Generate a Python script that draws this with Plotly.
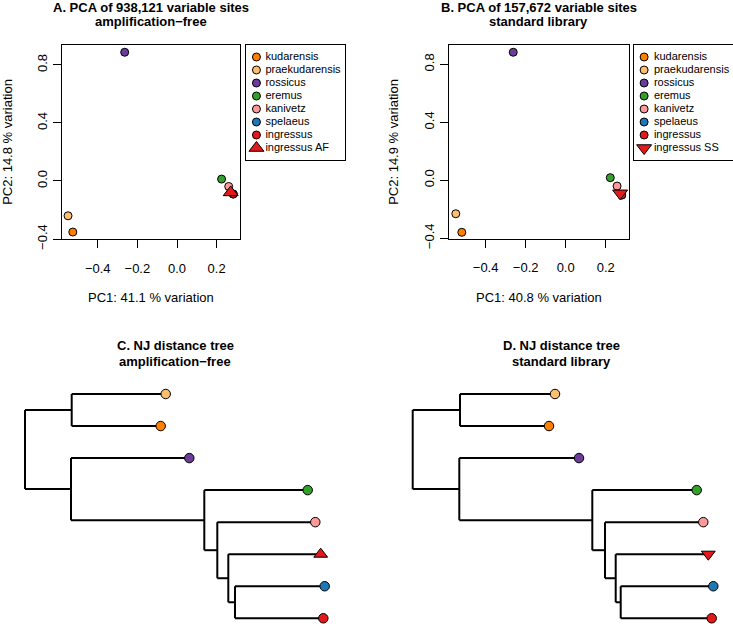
import plotly.graph_objects as go

W, H = 733, 624

# ---------------- data ----------------
species = ["kudarensis", "praekudarensis", "rossicus", "eremus", "kanivetz", "spelaeus", "ingressus"]
species_colors = ["#FF7F00", "#FDBF6F", "#6A3D9A", "#33A02C", "#FB9A99", "#1F78B4", "#E31A1C"]

pcaA_pc1 = [-0.526, -0.550, -0.264, 0.225, 0.261, 0.284, 0.284]
pcaA_pc2 = [-0.352, -0.240, 0.887, 0.013, -0.038, -0.090, -0.090]
pcaA_extra_label = "ingressus AF"
pcaA_extra = (0.271, -0.079)

pcaB_pc1 = [-0.519, -0.549, -0.262, 0.223, 0.257, 0.280, 0.280]
pcaB_pc2 = [-0.359, -0.231, 0.883, 0.018, -0.040, -0.102, -0.102]
pcaB_extra_label = "ingressus SS"
pcaB_extra = (0.272, -0.090)

titleA = ["A. PCA of 938,121 variable sites", "amplification\u2212free"]
titleB = ["B. PCA of 157,672 variable sites", "standard library"]
titleC = ["C. NJ distance tree", "amplification\u2212free"]
titleD = ["D. NJ distance tree", "standard library"]
xlabA, ylabA = "PC1: 41.1 % variation", "PC2: 14.8 % variation"
xlabB, ylabB = "PC1: 40.8 % variation", "PC2: 14.9 % variation"
pca_xticks = [-0.4, -0.2, 0.0, 0.2]
pca_yticks = [-0.4, 0.0, 0.4, 0.8]

# NJ trees: tips (top to bottom) with distance from root; internal nodes with children
treeC_tips = ["praekudarensis", "kudarensis", "rossicus", "eremus", "kanivetz", "ingressus AF", "spelaeus", "ingressus"]
treeC_tip_depth = [0.1407, 0.1357, 0.1643, 0.2827, 0.2903, 0.2957, 0.2997, 0.2983]
treeD_tips = ["praekudarensis", "kudarensis", "rossicus", "eremus", "kanivetz", "ingressus SS", "spelaeus", "ingressus"]
treeD_tip_depth = [0.1423, 0.1363, 0.1663, 0.2840, 0.2906, 0.2956, 0.3006, 0.2990]
tree_nodes = {
    "root": ["n1", "n2"],
    "n1": [0, 1],
    "n2": [2, "n3"],
    "n3": [3, "n4"],
    "n4": [4, "n5"],
    "n5": [5, "n6"],
    "n6": [6, 7],
}
treeC_node_depth = {"root": 0.0, "n1": 0.0467, "n2": 0.0460, "n3": 0.1793, "n4": 0.1923, "n5": 0.2033, "n6": 0.2100}
treeD_node_depth = {"root": 0.0, "n1": 0.0473, "n2": 0.0466, "n3": 0.1796, "n4": 0.1923, "n5": 0.2030, "n6": 0.2080}

FONT = "Liberation Sans, Arial, Helvetica, sans-serif"

def px_x(p):
    return p / W

def px_y(p):
    return 1 - p / H

fig = go.Figure()

def pca_panel(ax, pc1, pc2, extra, extra_label, extra_symbol, dom_x, dom_y, xr, yr,
              title, xlab, ylab, leg_ax, leg_dom_x, leg_dom_y, leg_mx, leg_tx):
    xa = "x" if ax == 1 else f"x{ax}"
    ya = "y" if ax == 1 else f"y{ax}"
    for i, sp in enumerate(species):
        fig.add_trace(go.Scatter(x=[pc1[i]], y=[pc2[i]], mode="markers", xaxis=xa, yaxis=ya,
                                 marker=dict(size=8, opacity=1, color=species_colors[i], line=dict(color="black", width=1)),
                                 showlegend=False, hoverinfo="skip", cliponaxis=False))
    fig.add_trace(go.Scatter(x=[extra[0]], y=[extra[1]], mode="markers", xaxis=xa, yaxis=ya,
                             marker=dict(size=13, opacity=1, symbol=extra_symbol, color="#E31A1C", line=dict(color="black", width=1)),
                             showlegend=False, hoverinfo="skip", cliponaxis=False))
    axis_common = dict(showline=True, mirror=True, linecolor="black", linewidth=1, ticks="outside",
                       ticklen=8, tickwidth=1, tickcolor="black", showgrid=False, zeroline=False, automargin=False,
                       tickfont=dict(family=FONT, size=13, color="black"))
    fig.layout[f"xaxis{'' if ax == 1 else ax}"] = dict(domain=[px_x(dom_x[0]), px_x(dom_x[1])], range=xr,
                                                         anchor=ya, tickvals=pca_xticks, ticktext=[f"{v:.1f}".replace("-", "\u2212") for v in pca_xticks],
                                                         ticklabelstandoff=9, **axis_common)
    fig.layout[f"yaxis{'' if ax == 1 else ax}"] = dict(domain=[px_y(dom_y[1]), px_y(dom_y[0])], range=yr,
                                                         anchor=xa, tickvals=pca_yticks, ticktext=[f"{v:.1f}".replace("-", "\u2212") for v in pca_yticks],
                                                         tickangle=-90, ticklabelstandoff=1, **axis_common)
    cx = (dom_x[0] + dom_x[1]) / 2
    cy = (dom_y[0] + dom_y[1]) / 2
    fig.add_annotation(x=px_x(cx), y=px_y(7.5), xref="paper", yref="paper", text=f"<b>{title[0]}</b>",
                       showarrow=False, font=dict(family=FONT, size=13, color="black"), xanchor="center", yanchor="middle")
    fig.add_annotation(x=px_x(cx), y=px_y(22), xref="paper", yref="paper", text=f"<b>{title[1]}</b>",
                       showarrow=False, font=dict(family=FONT, size=13, color="black"), xanchor="center", yanchor="middle")
    fig.add_annotation(x=px_x(cx), y=px_y(297), xref="paper", yref="paper", text=xlab,
                       showarrow=False, font=dict(family=FONT, size=13, color="black"), xanchor="center", yanchor="middle")
    fig.add_annotation(x=px_x(dom_x[0] - 55), y=px_y(cy), xref="paper", yref="paper", text=ylab, textangle=-90,
                       showarrow=False, font=dict(family=FONT, size=13, color="black"), xanchor="center", yanchor="middle")
    lxa, lya = f"x{leg_ax}", f"y{leg_ax}"
    labels = species + [extra_label]
    idx = list(range(len(labels)))
    syms = ["circle"] * len(species) + [extra_symbol]
    sizes = [8] * len(species) + [13]
    cols = species_colors + ["#E31A1C"]
    fig.add_trace(go.Scatter(x=[leg_mx] * len(labels), y=idx, mode="markers", xaxis=lxa, yaxis=lya,
                             marker=dict(size=sizes, opacity=1, symbol=syms, color=cols, line=dict(color="black", width=1)),
                             showlegend=False, hoverinfo="skip", cliponaxis=False))
    fig.add_trace(go.Scatter(x=[leg_tx] * len(labels), y=idx, mode="text", text=labels, textposition="middle right",
                             xaxis=lxa, yaxis=lya, textfont=dict(family=FONT, size=11, color="black"),
                             showlegend=False, hoverinfo="skip", cliponaxis=False))
    top, bot = leg_dom_y
    first, step = top + 12.5, 13.0
    fig.layout[f"xaxis{leg_ax}"] = dict(domain=[px_x(leg_dom_x[0]), px_x(leg_dom_x[1])], range=[0, 1], anchor=lya,
                                        showline=True, mirror=True, linecolor="black", linewidth=1, automargin=False,
                                        showticklabels=False, ticks="", showgrid=False, zeroline=False)
    fig.layout[f"yaxis{leg_ax}"] = dict(domain=[px_y(bot), px_y(top)],
                                        range=[(bot - first) / step, (top - first) / step], anchor=lxa,
                                        showline=True, mirror=True, linecolor="black", linewidth=1, automargin=False,
                                        showticklabels=False, ticks="", showgrid=False, zeroline=False)

pca_panel(1, pcaA_pc1, pcaA_pc2, pcaA_extra, pcaA_extra_label, "triangle-up",
          (61.7, 240), (45, 239.3), [-0.582, 0.318], [-0.402, 0.937],
          titleA, xlabA, ylabA, 5, (245.5, 345), (44.5, 160), 0.11, 0.2)
pca_panel(2, pcaB_pc1, pcaB_pc2, pcaB_extra, pcaB_extra_label, "triangle-down",
          (449, 628.7), (45, 238.7), [-0.583, 0.315], [-0.403, 0.933],
          titleB, xlabB, ylabB, 6, (634.3, 732.5), (44.5, 160), 0.10, 0.2)

def tree_panel(ax, tips, tip_depth, node_depth, extra_symbol, dom_x_px, root_px, title, title_cx):
    xa, ya = f"x{ax}", f"y{ax}"
    ypos = {}
    def node_y(n):
        if isinstance(n, int):
            return float(n)
        if n in ypos:
            return ypos[n]
        ys = [node_y(c) for c in tree_nodes[n]]
        ypos[n] = sum(ys) / len(ys)
        return ypos[n]
    def depth(n):
        return tip_depth[n] if isinstance(n, int) else node_depth[n]
    xs, ys = [], []
    for n, ch in tree_nodes.items():
        cys = [node_y(c) for c in ch]
        xs += [node_depth[n], node_depth[n], None]
        ys += [min(cys), max(cys), None]
        for c in ch:
            xs += [node_depth[n], depth(c), None]
            ys += [node_y(c), node_y(c), None]
    fig.add_trace(go.Scatter(x=xs, y=ys, mode="lines", xaxis=xa, yaxis=ya,
                             line=dict(color="black", width=2), showlegend=False, hoverinfo="skip", cliponaxis=False))
    col_of = dict(zip(species, species_colors))
    tcols, tsyms, tsizes = [], [], []
    for t in tips:
        if t in col_of:
            tcols.append(col_of[t]); tsyms.append("circle"); tsizes.append(9.5)
        else:
            tcols.append("#E31A1C"); tsyms.append(extra_symbol); tsizes.append(12)
    fig.add_trace(go.Scatter(x=tip_depth, y=list(range(len(tips))), mode="markers", xaxis=xa, yaxis=ya,
                             marker=dict(size=tsizes, opacity=1, symbol=tsyms, color=tcols, line=dict(color="black", width=1)),
                             showlegend=False, hoverinfo="skip", cliponaxis=False))
    x0, x1 = dom_x_px
    fig.layout[f"xaxis{ax}"] = dict(domain=[px_x(x0), px_x(x1)],
                                    range=[(x0 - root_px) / 1000, (x1 - root_px) / 1000], anchor=ya,
                                    visible=False, automargin=False)
    ytop_px, ybot_px, first, step = 380, 624, 394.0, 32.04
    fig.layout[f"yaxis{ax}"] = dict(domain=[px_y(ybot_px), px_y(ytop_px)],
                                    range=[(ybot_px - first) / step, (ytop_px - first) / step], anchor=xa,
                                    visible=False, automargin=False)
    fig.add_annotation(x=px_x(title_cx), y=px_y(345.5), xref="paper", yref="paper", text=f"<b>{title[0]}</b>",
                       showarrow=False, font=dict(family=FONT, size=13, color="black"), xanchor="center", yanchor="middle")
    fig.add_annotation(x=px_x(title_cx), y=px_y(361), xref="paper", yref="paper", text=f"<b>{title[1]}</b>",
                       showarrow=False, font=dict(family=FONT, size=13, color="black"), xanchor="center", yanchor="middle")

tree_panel(3, treeC_tips, treeC_tip_depth, treeC_node_depth, "triangle-up", (0, 366), 25, titleC, 175)
tree_panel(4, treeD_tips, treeD_tip_depth, treeD_node_depth, "triangle-down", (366, 733), 412.7, titleD, 561)

fig.update_layout(width=W, height=H, margin=dict(l=0, r=0, t=0, b=0, autoexpand=False),
                  paper_bgcolor="white", plot_bgcolor="white", showlegend=False,
                  font=dict(family=FONT, color="black"))

fig.write_html("out.html")
